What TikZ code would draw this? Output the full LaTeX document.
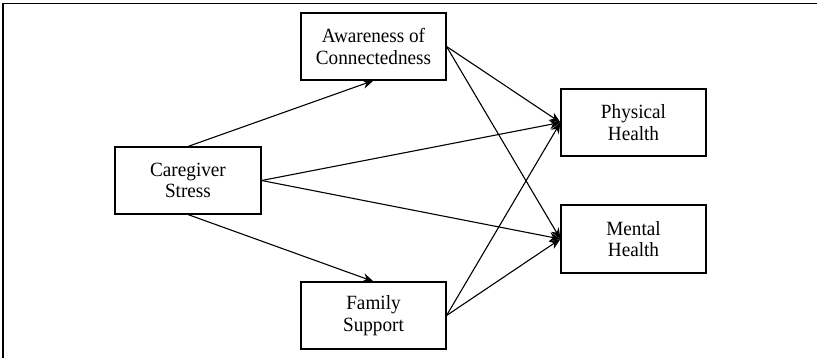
\documentclass[tikz,border=0pt]{standalone}
\usepackage{fontspec}
\setmainfont{Liberation Serif}
\newfontfamily\boxfont[FakeStretch=0.95]{Liberation Serif}
\usetikzlibrary{arrows.meta}
\begin{document}
\begin{tikzpicture}[x=1pt,y=-1pt,
  box/.style={draw, line width=1.1pt, minimum width=145pt, minimum height=67pt, inner sep=0pt, align=center, font=\boxfont\fontsize{20.2}{21.8}\selectfont},
  path/.style={line width=1.1pt, -{Stealth[length=11pt,width=9pt]}}]
\useasboundingbox (0,0) rectangle (817,357);
\draw[line width=1.5pt] (3,360) -- (3,3.5) -- (820,3.5);
\node[box] (aw) at (373.5,46.5) {Awareness of\\Connectedness};
\node[box, minimum width=146pt] (cg) at (188,180.5) {Caregiver\\Stress};
\node[box] (ph) at (633.5,122.5) {Physical\\Health};
\node[box, minimum height=68pt] (mh) at (633.5,239) {Mental\\Health};
\node[box] (fs) at (373.5,315.5) {Family\\Support};
\draw[path] (cg.north) -- (aw.south);
\draw[path] (cg.south) -- (fs.north);
\draw[path] (cg.east) -- (ph.west);
\draw[path] (cg.east) -- (mh.west);
\draw[path] (aw.east) -- (ph.west);
\draw[path] (aw.east) -- (mh.west);
\draw[path] (fs.east) -- (ph.west);
\draw[path] (fs.east) -- (mh.west);
\end{tikzpicture}
\end{document}
